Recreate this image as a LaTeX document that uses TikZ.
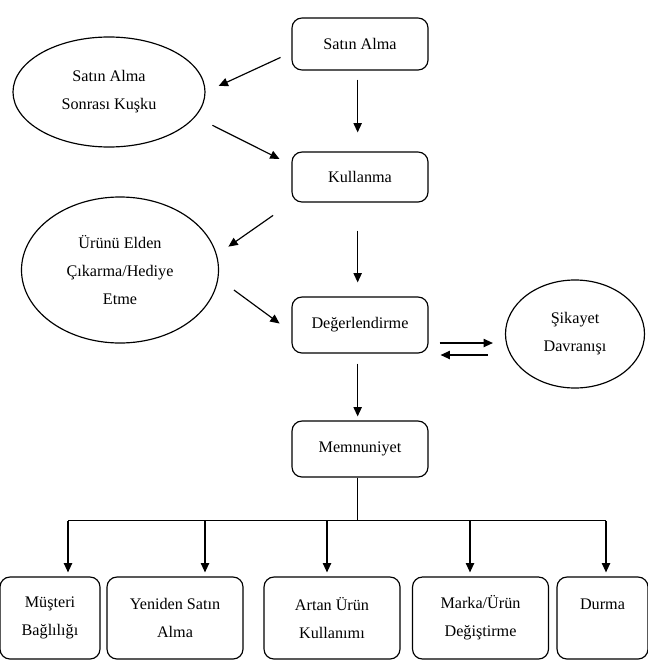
\documentclass[tikz,border=0pt]{standalone}
\usepackage{fontspec}
\setmainfont{Liberation Serif}
\usetikzlibrary{arrows.meta,shapes.geometric}

\tikzset{
  box/.style={draw, rounded corners=0.3cm, minimum width=4.08cm,
    minimum height=1.6cm, align=center, inner sep=0pt},
  oval/.style={draw, ellipse, align=center, inner sep=0pt},
  arr/.style={-{Triangle[length=0.28cm,width=0.25cm]}},
}

\begin{document}
\begin{tikzpicture}[x=0.03cm, y=-0.03cm, line width=1pt,
    font=\fontsize{13.8}{23.8}\selectfont]
            \useasboundingbox (0,0) rectangle (648,668);
            % main column
            \node[box, minimum height=1.56cm] (sat) at (360,44) {Satın Alma};
            \node[box, minimum height=1.5cm] (kul) at (360,177) {Kullanma};
            \node[box, minimum height=1.68cm] (deg) at (360,325) {Değerlendirme};
            \node[box, minimum height=1.68cm] (mem) at (360,449) {Memnuniyet};
            % side ovals
            \node[oval, minimum width=5.76cm, minimum height=3.3cm] (kusku) at (109,92) {Satın Alma\\Sonrası Kuşku};
            \node[oval, minimum width=5.91cm, minimum height=4.38cm] (elden) at (120,270) {Ürünü Elden\\Çıkarma/Hediye\\Etme};
            \node[oval, minimum width=4.17cm, minimum height=3.24cm] (sik) at (575,334) {Şikayet\\Davranışı};
            % outcomes
            \node[box, minimum width=3cm, minimum height=2.46cm] (b1) at (50,618) {Müşteri\\Bağlılığı};
            \node[box, minimum height=2.46cm] (b2) at (175,618) {Yeniden Satın\\Alma};
            \node[box, minimum height=2.46cm] (b3) at (332,618) {Artan Ürün\\Kullanımı};
            \node[box, minimum height=2.46cm] (b4) at (480.5,618) {Marka/Ürün\\Değiştirme};
            \node[box, minimum width=2.73cm, minimum height=2.46cm] (b5) at (602.5,618) {Durma\\\mbox{}};

            \draw[arr, shorten <=0.27cm, shorten >=0.57cm] ([xshift=-2]sat.south) -- ([xshift=-2]kul.north);
            \draw[arr, shorten <=0.84cm, shorten >=0.42cm] ([xshift=-2]kul.south) -- ([xshift=-2]deg.north);
            \draw[arr, shorten <=0.3cm, shorten >=0.12cm] ([xshift=-2]deg.south) -- ([xshift=-2]mem.north);
            \draw[arr, shorten <=0.36cm, shorten >=0.43cm] (sat.187) -- (kusku.east);
            \draw[arr, shorten <=0.57cm, shorten >=0.4cm] (kusku.-16) -- (kul.170);
            \draw[arr, shorten <=0.67cm, shorten >=0.42cm] (kul.south west) -- (elden.9);
            \draw[arr, shorten <=0.58cm, shorten >=0.44cm] (elden.-5) -- (deg.186);

            % complaint loop
            \path (deg.east) ++(0,18) coordinate (up) ++(0,12) coordinate (lo);
            \draw[arr, shorten <=0.33cm, shorten >=0.36cm] (up) -- (up -| sik.west);
            \draw[arr, shorten <=0.51cm, shorten >=0.36cm] (lo -| sik.west) -- (lo);

            % branches
            \path ([xshift=-2]mem.south) ++(0,43) coordinate (split);
            \draw ([xshift=-2]mem.south) -- (split);
            \foreach \b/\dx in {b1/18, b2/30, b3/-5, b4/-10.5, b5/3.5}
                \path (\b.north) ++(\dx,0) coordinate (\b-t);
            \draw (b1-t |- split) -- (b5-t |- split);
            \foreach \b in {b1,b2,b3,b4,b5}
                \draw[arr, shorten >=0.12cm] (\b-t |- split) -- (\b-t);
        \end{tikzpicture}
\end{document}
